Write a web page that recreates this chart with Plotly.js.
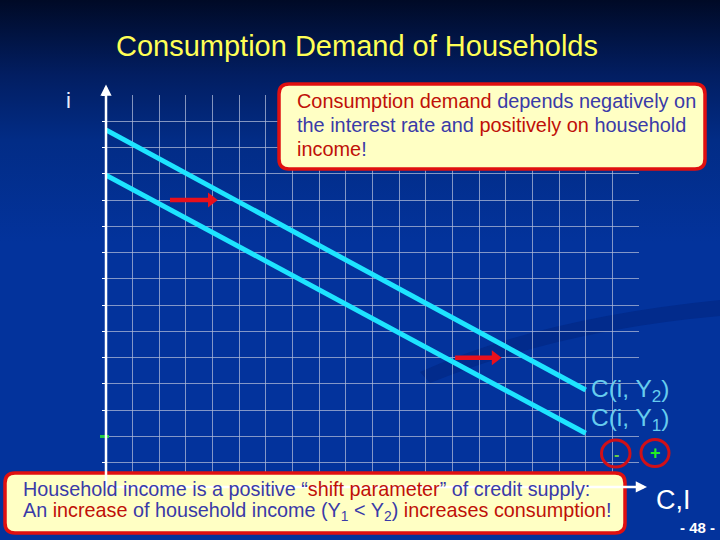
<!DOCTYPE html>
<html>
<head>
<meta charset="utf-8">
<script src="https://cdn.plot.ly/plotly-3.0.1.min.js"></script>
<style>
  html, body { margin: 0; padding: 0; }
  body {
    width: 720px; height: 540px; overflow: hidden;
    background: linear-gradient(to bottom, #000a26 0%, #021e62 14%, #022c86 26%, #03339c 45%, #03339c 100%);
  }
  #chart { width: 720px; height: 540px; }
</style>
</head>
<body>
<div id="chart"></div>
<script>
// ---- data ----
var curveNames = ['C(i, Y2)', 'C(i, Y1)'];
var curveX = [0, 18];
var curveY2 = [13.67, 3.77];   // higher household income
var curveY1 = [11.95, 2.12];   // lower household income
var shiftArrowY = [11, 5];
var shiftArrowFrom = [2.4, 13.1];
var shiftArrowHead = [3.95, 14.6];
var markedRate = [2];          // green tick on the i-axis
var xRange = [0, 20];
var yRange = [0, 15];
var axisEndI = 15.4;           // tip of the i-axis arrow
var axisEndC = 20.3;           // tip of the C,I-axis arrow

// ---- layout helpers (pixel -> paper) ----
var L = 106, R = 81, T = 95, B = 51, W = 720, H = 540;
var PW = W - L - R, PH = H - T - B;
function px(x) { return (x - L) / PW; }
function py(y) { return (H - B - y) / PH; }
function roundRect(x0, y0, x1, y1, r) {
  var rx = r / PW, ry = r / PH;
  var a = px(x0), b = px(x1), c = py(y0), d = py(y1);
  return 'M' + (a + rx) + ',' + c + ' L' + (b - rx) + ',' + c +
    ' Q' + b + ',' + c + ' ' + b + ',' + (c - ry) +
    ' L' + b + ',' + (d + ry) + ' Q' + b + ',' + d + ' ' + (b - rx) + ',' + d +
    ' L' + (a + rx) + ',' + d + ' Q' + a + ',' + d + ' ' + a + ',' + (d + ry) +
    ' L' + a + ',' + (c - ry) + ' Q' + a + ',' + c + ' ' + (a + rx) + ',' + c + ' Z';
}
function P(x, y) { return px(x) + ',' + py(y); }

var FONT = 'Liberation Sans, Arial, sans-serif';
var RED = '#c01008';
var BLUE = '#3a3aa8';
var CYAN = '#1ee4ff';
var LABEL = '#66ccee';
var ARROWRED = '#e8101c';

var traces = [
  { x: curveX, y: curveY2, mode: 'lines', name: curveNames[0],
    line: { color: CYAN, width: 5 }, hoverinfo: 'skip' },
  { x: curveX, y: curveY1, mode: 'lines', name: curveNames[1],
    line: { color: CYAN, width: 5 }, hoverinfo: 'skip' }
];
// shift arrows
for (var i = 0; i < shiftArrowY.length; i++) {
  traces.push({ x: [shiftArrowFrom[i], shiftArrowHead[i]], y: [shiftArrowY[i], shiftArrowY[i]],
    mode: 'lines', line: { color: ARROWRED, width: 4.5 }, hoverinfo: 'skip' });
  traces.push({ x: [shiftArrowHead[i]], y: [shiftArrowY[i]], mode: 'markers', cliponaxis: false,
    marker: { symbol: 'triangle-right', size: 13, color: ARROWRED, line: { width: 0 } }, hoverinfo: 'skip' });
}

var annotations = [];
// axis arrows
annotations.push({ xref: 'x', yref: 'y', axref: 'x', ayref: 'y',
  x: 0, y: axisEndI, ax: 0, ay: 0, text: '', showarrow: true,
  arrowhead: 2, arrowsize: 0.9, arrowwidth: 2.5, arrowcolor: '#ffffff' });
annotations.push({ xref: 'x', yref: 'y', axref: 'x', ayref: 'y',
  x: axisEndC, y: 0.08, ax: 0, ay: 0.08, text: '', showarrow: true,
  arrowhead: 2, arrowsize: 0.9, arrowwidth: 2.5, arrowcolor: '#ffffff' });

function txt(x, y, text, size, color, anchor) {
  annotations.push({ xref: 'paper', yref: 'paper', x: px(x), y: py(y), text: text,
    showarrow: false, xanchor: anchor || 'left', yanchor: 'middle',
    font: { family: FONT, size: size, color: color } });
}
function r(s) { return '<span style="color:' + RED + '">' + s + '</span>'; }

// axis labels
txt(68, 100, 'i', 22, '#e8ecff', 'center');
txt(673, 500, 'C,I', 27, '#ffffff', 'center');
txt(697, 527, '<b>- 48 -</b>', 15, '#ffffff', 'center');

// curve labels
txt(589, 390, 'C(i, Y<sub>2</sub>)', 24.5, LABEL, 'left');
txt(589, 419, 'C(i, Y<sub>1</sub>)', 24.5, LABEL, 'left');

// signs
txt(616, 454, '<b>-</b>', 16, '#66cc44', 'center');
txt(655, 453, '<b>+</b>', 18, '#22ee22', 'center');

// top box text
txt(295, 101, r('Consumption demand') + ' depends negatively on', 19.9, BLUE, 'left');
txt(295, 125, 'the interest rate and ' + r('positively on') + ' household', 19.9, BLUE, 'left');
txt(295, 149, r('income') + '!', 19.9, BLUE, 'left');

// bottom box text
txt(21, 489, 'Household income is a positive \u201c' + r('shift parameter') + '\u201d of credit supply:', 19.8, BLUE, 'left');
txt(21, 512, 'An ' + r('increase') + ' of household income (Y<sub>1</sub> &lt; Y<sub>2</sub>) ' + r('increases consumption') + '!', 19.8, BLUE, 'left');

var shapes = [
  // faint background swooshes
  { type: 'path', xref: 'paper', yref: 'paper', layer: 'below',
    path: 'M' + P(420, 372) + ' Q' + P(540, 318) + ' ' + P(720, 300) + ' L' + P(720, 316) +
      ' Q' + P(560, 330) + ' ' + P(430, 383) + ' Z',
    fillcolor: '#022b8c', line: { width: 0 } },
  // green marker on i-axis
  { type: 'line', xref: 'paper', yref: 'y', x0: px(100), x1: px(109), y0: markedRate[0], y1: markedRate[0],
    line: { color: '#22cc44', width: 3 }, layer: 'above' },
  // top box
  { type: 'path', xref: 'paper', yref: 'paper', path: roundRect(279, 84, 705, 169, 10),
    fillcolor: '#ffffc4', line: { color: '#e01010', width: 3.5 }, layer: 'above' },
  // bottom box
  { type: 'path', xref: 'paper', yref: 'paper', path: roundRect(5, 473, 625, 533, 10),
    fillcolor: '#ffffc4', line: { color: '#e01010', width: 3.5 }, layer: 'above' },
  // circles around signs
  { type: 'circle', xref: 'paper', yref: 'paper', x0: px(601.5), x1: px(630), y0: py(440), y1: py(467),
    line: { color: '#d01018', width: 3 }, layer: 'above' },
  { type: 'circle', xref: 'paper', yref: 'paper', x0: px(641), x1: px(669), y0: py(439.5), y1: py(466.5),
    line: { color: '#d01018', width: 3 }, layer: 'above' }
];

var layout = {
  width: W, height: H,
  margin: { l: L, r: R, t: T, b: B, pad: 0 },
  paper_bgcolor: 'rgba(0,0,0,0)',
  plot_bgcolor: 'rgba(0,0,0,0)',
  showlegend: false,
  title: { text: 'Consumption Demand of Households', xref: 'container', x: 357 / W, xanchor: 'center',
    yref: 'container', y: 1 - 46 / H, yanchor: 'middle',
    font: { family: FONT, size: 29, color: '#ffff55' } },
  xaxis: { range: xRange, dtick: 1, showgrid: true, gridcolor: 'rgba(175,185,215,0.75)', gridwidth: 1,
    zeroline: false, showline: false, showticklabels: false, ticks: '', fixedrange: true },
  yaxis: { range: yRange, dtick: 1, showgrid: true, gridcolor: 'rgba(175,185,215,0.75)', gridwidth: 1,
    zeroline: false, showline: false, showticklabels: false, ticks: 'outside', ticklen: 3,
    tickcolor: '#ffffff', tickwidth: 1, fixedrange: true },
  shapes: shapes,
  annotations: annotations
};

Plotly.newPlot('chart', traces, layout, { displayModeBar: false, staticPlot: true });
</script>
</body>
</html>
